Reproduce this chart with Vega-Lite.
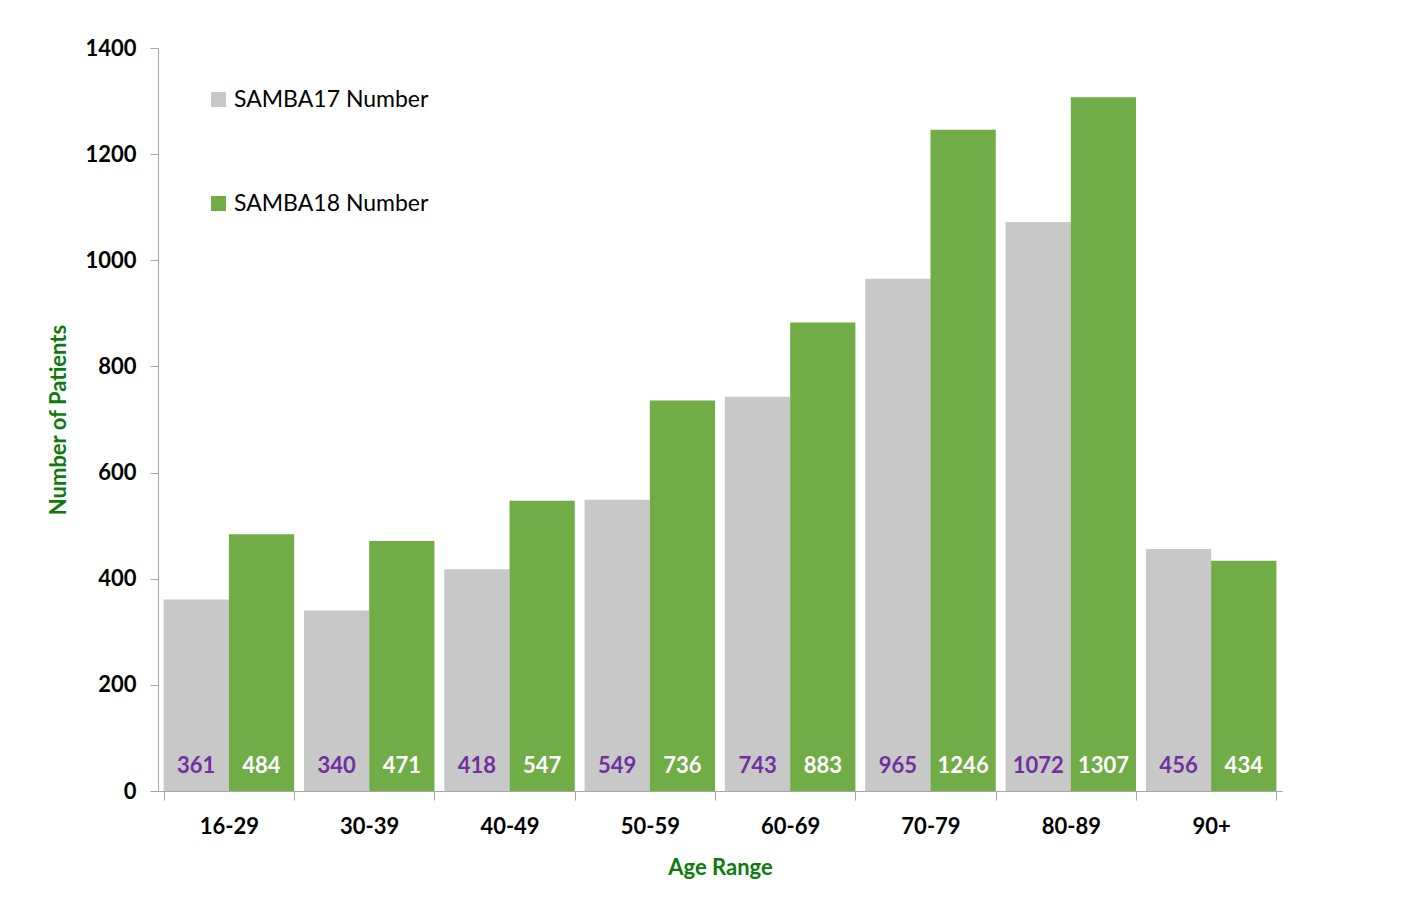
{
  "$schema": "https://vega.github.io/schema/vega-lite/v6.json",
  "width": 1124,
  "height": 743,
  "autosize": {"type": "none"},
  "padding": {"left": 158, "top": 48, "right": 134, "bottom": 116},
  "background": "white",
  "config": {
    "font": "Lato",
    "view": {"stroke": null}
  },
  "data": {
    "values": [
      {"age": "16-29", "series": "SAMBA17 Number", "patients": 361},
      {"age": "16-29", "series": "SAMBA18 Number", "patients": 484},
      {"age": "30-39", "series": "SAMBA17 Number", "patients": 340},
      {"age": "30-39", "series": "SAMBA18 Number", "patients": 471},
      {"age": "40-49", "series": "SAMBA17 Number", "patients": 418},
      {"age": "40-49", "series": "SAMBA18 Number", "patients": 547},
      {"age": "50-59", "series": "SAMBA17 Number", "patients": 549},
      {"age": "50-59", "series": "SAMBA18 Number", "patients": 736},
      {"age": "60-69", "series": "SAMBA17 Number", "patients": 743},
      {"age": "60-69", "series": "SAMBA18 Number", "patients": 883},
      {"age": "70-79", "series": "SAMBA17 Number", "patients": 965},
      {"age": "70-79", "series": "SAMBA18 Number", "patients": 1246},
      {"age": "80-89", "series": "SAMBA17 Number", "patients": 1072},
      {"age": "80-89", "series": "SAMBA18 Number", "patients": 1307},
      {"age": "90+", "series": "SAMBA17 Number", "patients": 456},
      {"age": "90+", "series": "SAMBA18 Number", "patients": 434}
    ]
  },
  "encoding": {
    "x": {
      "field": "age",
      "type": "nominal",
      "sort": null,
      "scale": {"paddingInner": 0.07, "paddingOuter": 0.04},
      "axis": {
        "title": "Age Range",
        "titleColor": "#0E7A0E",
        "titleFontSize": 22,
        "titleFontWeight": "bold",
        "titlePadding": 20,
        "labelAngle": 0,
        "labelFontSize": 22,
        "labelFontWeight": "bold",
        "labelColor": "black",
        "labelPadding": 16,
        "tickBand": "extent",
        "tickSize": 9,
        "tickColor": "#A6A6A6",
        "domainColor": "#A6A6A6",
        "grid": false
      }
    },
    "xOffset": {"field": "series", "type": "nominal"},
    "y": {
      "field": "patients",
      "type": "quantitative",
      "scale": {"domain": [0, 1400], "nice": false},
      "axis": {
        "title": "Number of Patients",
        "titleColor": "#0E7A0E",
        "titleFontSize": 22,
        "titleFontWeight": "bold",
        "titlePadding": 14,
        "values": [0, 200, 400, 600, 800, 1000, 1200, 1400],
        "format": "d",
        "labelFontSize": 22,
        "labelFontWeight": "bold",
        "labelColor": "black",
        "labelPadding": 14,
        "tickSize": 8,
        "tickColor": "#A6A6A6",
        "domainColor": "#A6A6A6",
        "grid": false
      }
    }
  },
  "layer": [
    {
      "mark": {"type": "bar"},
      "encoding": {
        "color": {
          "field": "series",
          "type": "nominal",
          "scale": {
            "domain": ["SAMBA17 Number", "SAMBA18 Number"],
            "range": ["#C8C8C8", "#70AD47"]
          },
          "legend": {
            "title": null,
            "orient": "none",
            "legendX": 49,
            "legendY": 40,
            "symbolType": "square",
            "symbolSize": 225,
            "symbolStrokeWidth": 0,
            "labelFontSize": 23,
            "labelColor": "black",
            "labelOffset": 4,
            "labelLimit": 400,
            "rowPadding": 80
          }
        }
      }
    },
    {
      "mark": {
        "type": "text",
        "fontSize": 22,
        "fontWeight": "bold",
        "baseline": "alphabetic",
        "dy": -18
      },
      "encoding": {
        "y": {"datum": 0},
        "text": {"field": "patients", "type": "quantitative"},
        "color": {
          "condition": {"test": "datum.series === 'SAMBA17 Number'", "value": "#7030A0"},
          "value": "white"
        }
      }
    }
  ]
}
